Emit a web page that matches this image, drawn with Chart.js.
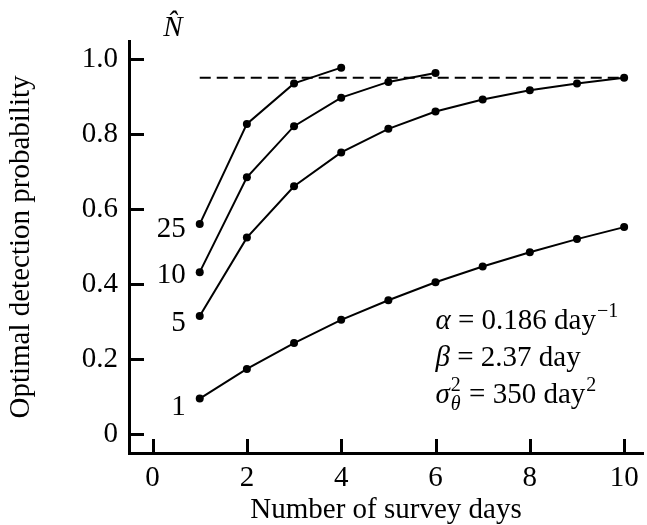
<!DOCTYPE html>
<html>
<head>
<meta charset="utf-8">
<script src="https://cdn.jsdelivr.net/npm/chart.js@4/dist/chart.umd.min.js"></script>
<style>
html, body { margin: 0; padding: 0; background: #fff; }
#wrap { width: 647px; height: 525px; position: relative; }
</style>
</head>
<body>
<div id="wrap"><canvas id="chart"></canvas></div>
<script>
// survey days and optimal detection probability for each N-hat
const days = [1, 2, 3, 4, 5, 6, 7, 8, 9, 10];
const curveNames = ['1', '5', '10', '25'];
const probN1 = [0.095, 0.174, 0.243, 0.305, 0.357, 0.405, 0.447, 0.485, 0.520, 0.552];
const probN5 = [0.315, 0.524, 0.661, 0.751, 0.814, 0.860, 0.892, 0.917, 0.935, 0.950];
const probN10 = [0.432, 0.685, 0.821, 0.897, 0.939, 0.963];
const probN25 = [0.560, 0.827, 0.935, 0.977];
const targetProb = 0.95;
const targetDays = [1, 10];
const xTickValues = [0, 2, 4, 6, 8, 10];
const yTickValues = [0, 0.2, 0.4, 0.6, 0.8, 1.0];
const yTickLabels = ['0', '0.2', '0.4', '0.6', '0.8', '1.0'];

const FONT = "'Liberation Serif', 'Times New Roman', serif";
const FS = 29;

function toPoints(vals) {
  return vals.map((v, i) => ({ x: days[i], y: v }));
}

const curves = [probN1, probN5, probN10, probN25];
const datasets = curves.map((vals, i) => ({
  label: curveNames[i],
  data: toPoints(vals),
  borderColor: '#000',
  backgroundColor: '#000',
  borderWidth: 2,
  pointRadius: 4,
  pointHoverRadius: 4,
  pointBorderWidth: 0,
  tension: 0
}));
datasets.push({
  label: 'target',
  data: targetDays.map(d => ({ x: d, y: targetProb })),
  borderColor: '#000',
  borderWidth: 2,
  borderDash: [11, 6],
  pointRadius: 0,
  tension: 0
});

// draws a line of mixed roman / italic / sup / sub text
function drawRich(ctx, x, y, parts) {
  parts.forEach(p => {
    if (p.sup !== undefined || p.sub !== undefined) {
      let w = 0;
      if (p.sup !== undefined) {
        ctx.font = `${Math.round(FS * 0.7)}px ${FONT}`;
        ctx.fillText(p.sup, x + 1, y - 12);
        w = Math.max(w, ctx.measureText(p.sup).width);
      }
      if (p.sub !== undefined) {
        ctx.font = `italic ${Math.round(FS * 0.7)}px ${FONT}`;
        ctx.fillText(p.sub, x + 1, y + 7);
        w = Math.max(w, ctx.measureText(p.sub).width);
      }
      x += w + 2;
    } else {
      ctx.font = `${p.it ? 'italic ' : ''}${FS}px ${FONT}`;
      ctx.fillText(p.t, x, y);
      x += ctx.measureText(p.t).width;
    }
  });
}

const decorations = {
  id: 'decorations',
  afterDraw(chart) {
    const ctx = chart.ctx;
    const xs = chart.scales.x, ys = chart.scales.y;
    const area = chart.chartArea;
    ctx.save();
    ctx.strokeStyle = '#000';
    ctx.fillStyle = '#000';
    ctx.lineWidth = 3;
    // inward tick marks
    xTickValues.forEach(v => {
      const px = Math.round(xs.getPixelForValue(v)) + 0.5;
      ctx.beginPath();
      ctx.moveTo(px, area.bottom);
      ctx.lineTo(px, area.bottom - 14);
      ctx.stroke();
    });
    yTickValues.forEach(v => {
      const py = Math.round(ys.getPixelForValue(v)) + 0.5;
      ctx.beginPath();
      ctx.moveTo(area.left, py);
      ctx.lineTo(area.left + 15, py);
      ctx.stroke();
    });

    // curve labels left of first point
    const offsets = [9, 7, 3, 5];
    ctx.font = `${FS}px ${FONT}`;
    ctx.textAlign = 'right';
    ctx.textBaseline = 'middle';
    curves.forEach((vals, i) => {
      const px = xs.getPixelForValue(days[0]);
      const py = ys.getPixelForValue(vals[0]);
      ctx.fillText(curveNames[i], px - 14, py + offsets[i]);
    });

    // N-hat header
    ctx.textAlign = 'center';
    ctx.textBaseline = 'alphabetic';
    ctx.font = `italic ${FS}px ${FONT}`;
    ctx.fillText('N\u0302', area.left + 44, 36);

    // parameter block
    ctx.textAlign = 'left';
    const ax = xs.getPixelForValue(6);
    const ay = ys.getPixelForValue(0.28);
    drawRich(ctx, ax, ay, [{ t: 'α', it: true }, { t: ' = 0.186 day' }, { sup: '−1' }]);
    drawRich(ctx, ax, ay + 37, [{ t: 'β', it: true }, { t: ' = 2.37 day' }]);
    drawRich(ctx, ax, ay + 74, [{ t: 'σ', it: true }, { sup: '2', sub: 'θ' }, { t: ' = 350 day' }, { sup: '2' }]);
    ctx.restore();
  }
};

new Chart(document.getElementById('chart'), {
  type: 'line',
  data: { datasets },
  plugins: [decorations],
  options: {
    responsive: true,
    maintainAspectRatio: false,
    animation: false,
    events: [],
    layout: { padding: { top: 41, right: 0, left: 0, bottom: 0 } },
    plugins: { legend: { display: false }, tooltip: { enabled: false } },
    scales: {
      x: {
        type: 'linear',
        min: -0.5,
        max: 10.4,
        afterBuildTicks: s => { s.ticks = xTickValues.map(v => ({ value: v })); },
        afterFit: s => { s.height = 72; },
        grid: { display: false },
        border: { display: true, color: '#000', width: 3 },
        ticks: { color: '#000', font: { family: FONT, size: FS }, padding: 0, maxRotation: 0 },
        title: {
          display: true,
          text: 'Number of survey days',
          color: '#000',
          font: { family: FONT, size: FS },
          padding: { top: 0, bottom: -3 }
        }
      },
      y: {
        type: 'linear',
        min: -0.05,
        max: 1.048,
        afterBuildTicks: s => { s.ticks = yTickValues.map(v => ({ value: v })); },
        afterFit: s => { s.width = 129; },
        grid: { display: false },
        border: { display: true, color: '#000', width: 3 },
        ticks: {
          color: '#000',
          font: { family: FONT, size: FS },
          padding: 3,
          callback: (v, i) => yTickLabels[i]
        },
        title: {
          display: true,
          text: 'Optimal detection probability',
          color: '#000',
          font: { family: FONT, size: FS },
          padding: { top: 4, bottom: 0 }
        }
      }
    }
  }
});
</script>
</body>
</html>
